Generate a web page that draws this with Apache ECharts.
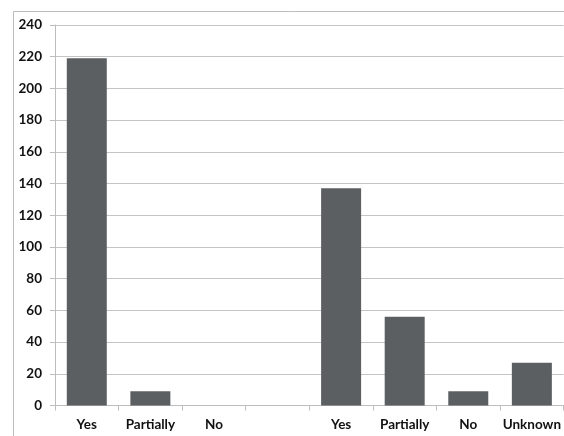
<!DOCTYPE html>
<html>
<head>
<meta charset="utf-8">
<style>
  html, body { margin: 0; padding: 0; background: #ffffff; }
  #chart { width: 564px; height: 436px; }
</style>
<script src="https://cdn.jsdelivr.net/npm/echarts@6/dist/echarts.min.js"></script>
</head>
<body>
<div id="chart"></div>
<script>
// Response categories: two groups separated by an empty slot
const categories = ['Yes', 'Partially', 'No', '', 'Yes', 'Partially', 'No', 'Unknown'];
const counts = [219, 9, 0, 0, 137, 56, 9, 27];
const yTicks = [0, 20, 40, 60, 80, 100, 120, 140, 160, 180, 200, 220, 240];

const chart = echarts.init(document.getElementById('chart'), null, { renderer: 'canvas' });

const labelFont = {
  fontFamily: 'Lato, Open Sans, Liberation Sans, sans-serif',
  fontWeight: 'bold',
  fontSize: 13.5,
  color: '#111111'
};

chart.setOption({
  animation: false,
  backgroundColor: '#ffffff',
  graphic: [{
    type: 'rect',
    shape: { x: 13.5, y: 11.5, width: 700, height: 600 },
    style: { fill: 'none', stroke: '#bdbdbd', lineWidth: 1 },
    silent: true,
    z: -1
  }],
  grid: { left: 55, top: 25, right: 0, bottom: 30.5, containLabel: false },
  xAxis: {
    type: 'category',
    data: categories,
    axisLine: { show: true, lineStyle: { color: '#bdbdbd', width: 1 } },
    axisTick: { show: true, alignWithLabel: false, length: 5, lineStyle: { color: '#bdbdbd' } },
    axisLabel: Object.assign({ margin: 12, interval: 0 }, labelFont)
  },
  yAxis: {
    type: 'value',
    min: yTicks[0],
    max: yTicks[yTicks.length - 1],
    interval: yTicks[1] - yTicks[0],
    axisLine: { show: true, lineStyle: { color: '#bdbdbd', width: 1 } },
    axisTick: { show: true, length: 5, lineStyle: { color: '#bdbdbd' } },
    splitLine: { show: true, lineStyle: { color: '#c4c4c4', width: 1 } },
    axisLabel: Object.assign({ margin: 13 }, labelFont)
  },
  series: [{
    type: 'bar',
    data: counts,
    barWidth: 40,
    itemStyle: { color: '#5c5f62' }
  }]
});
</script>
</body>
</html>
